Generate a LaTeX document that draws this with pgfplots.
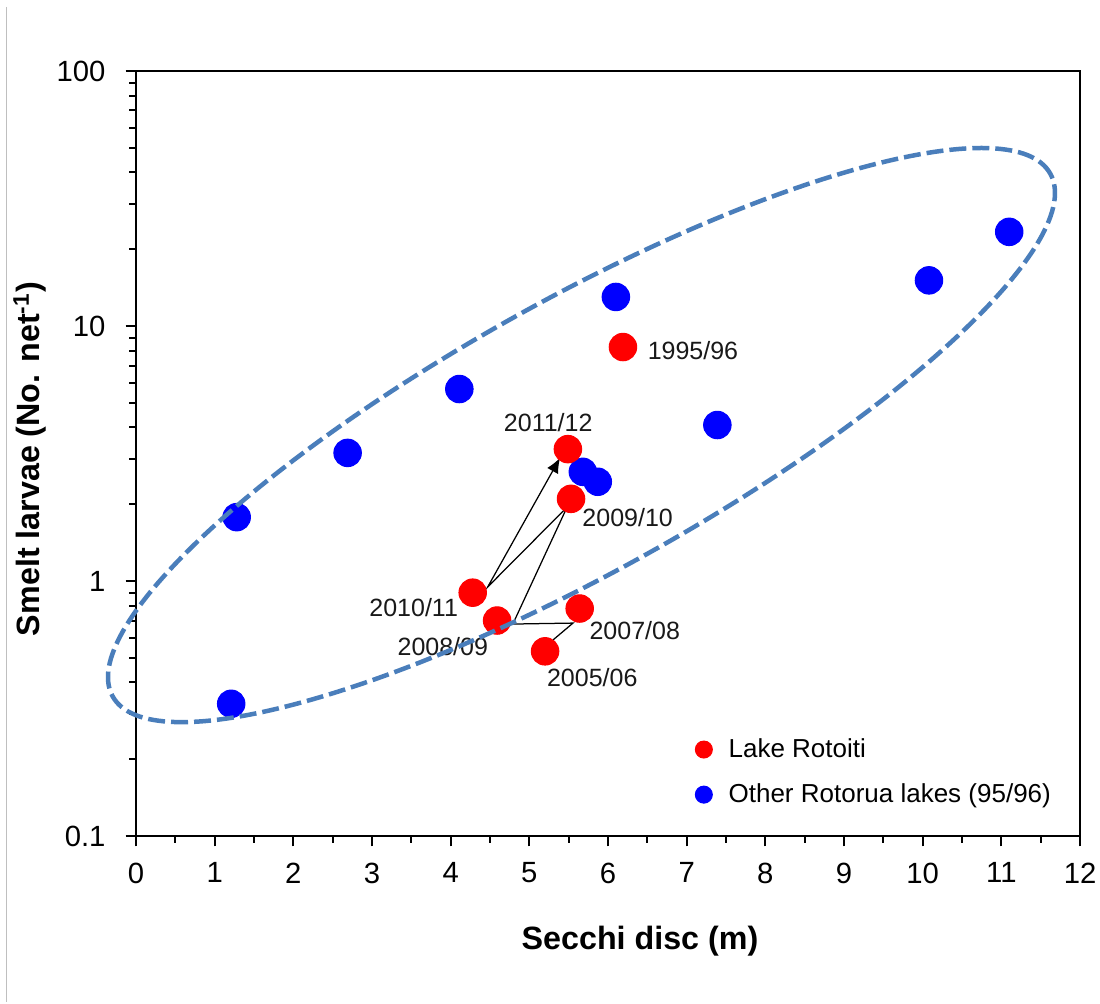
\documentclass[border=0pt]{standalone}
\usepackage{fontspec}
\setmainfont{Liberation Sans}
\usepackage{pgfplots}
\pgfplotsset{compat=1.18}
\usetikzlibrary{arrows.meta}
\definecolor{ellcol}{RGB}{74,126,187}
\begin{document}
\begin{tikzpicture}
\begin{axis}[
  name=ax,
  scale only axis, width=377.6pt, height=306pt,
  xmin=0, xmax=12, ymode=log, ymin=0.1, ymax=100,
  xtick={0,1,2,3,4,5,6,7,8,9,10,11,12},
  xticklabels={0,1,2,3,4,5,6,7,8,9,10,11,12},
  minor x tick num=1,
  ytick={0.1,1,10,100}, yticklabels={0.1,1,10,100},
  tick align=outside, xtick pos=bottom, ytick pos=left,
  major tick length=4.2pt, minor tick length=2.8pt,
  every tick/.style={black, line width=0.8pt},
  axis line style={line width=0.9pt},
  tick label style={font=\fontsize{11.7}{14}\selectfont},
  xticklabel style={yshift=-3pt},
  yticklabel style={xshift=-4.5pt},
  legend style={draw=none, fill=none, at={(rel axis cs:0.592,0.135)}, anchor=north west,
    font=\fontsize{10.4}{12.5}\selectfont, row sep=5pt, inner sep=0pt},
  legend cell align=left,
  legend image post style={mark size=3.4pt},
]
\addplot[only marks, mark=*, mark size=5.5pt, color=blue, forget plot] coordinates {
  (1.28,1.78) (1.21,0.33) (2.69,3.18) (4.11,5.66) (6.10,13.0) (7.39,4.09)
  (10.08,15.1) (11.10,23.4) (5.68,2.68) (5.87,2.45)
};
\addplot[only marks, mark=*, mark size=5.5pt, color=red] coordinates {
  (6.19,8.27) (5.49,3.29) (5.53,2.10) (4.28,0.90) (4.59,0.70) (5.64,0.78) (5.20,0.53)
};
\addlegendentry{\hspace{4.5pt}Lake Rotoiti}
\addplot[only marks, mark=*, mark size=5.5pt, color=blue] coordinates {(-5,1)};
\addlegendentry{\hspace{4.5pt}Other Rotorua lakes (95/96)}
\addplot[black, line width=0.5pt, -{Latex[length=6pt,width=5pt]}, forget plot] coordinates {
  (5.30,0.587) (5.555,0.684) (4.79,0.678) (5.48,1.95) (4.47,0.947) (5.39,3.04)
};
\begin{scope}[every node/.style={inner sep=0pt, anchor=center, text=black!90, font=\fontsize{10}{12}\selectfont}]
\node at (axis cs:7.08,7.98) {1995/96};
\node at (axis cs:5.24,4.20) {2011/12};
\node at (axis cs:6.25,1.78) {2009/10};
\node at (axis cs:3.53,0.784) {2010/11};
\node at (axis cs:3.90,0.551) {2008/09};
\node at (axis cs:6.34,0.642) {2007/08};
\node at (axis cs:5.80,0.417) {2005/06};
\end{scope}
\coordinate (ec) at (axis cs:5.663,3.737);
\end{axis}
\draw[ellcol, line width=1.8pt, dash pattern=on 6.8pt off 2.4pt, rotate around={29.14:(ec)}]
  (ec) ellipse [x radius=214.7pt, y radius=54.3pt];
\node[font=\bfseries\fontsize{12.9}{15}\selectfont, anchor=center] at ([xshift=12.8pt, yshift=-42pt]ax.south) {Secchi disc (m)};
\node[font=\bfseries\fontsize{12.9}{15}\selectfont, anchor=center, rotate=90] at ([xshift=-42.4pt, yshift=-2.2pt]ax.west) {Smelt larvae (No. net\textsuperscript{-1})};
\draw[black!25, line width=0.5pt] ([xshift=-51.8pt, yshift=25.6pt]ax.north west) -- ([xshift=-51.8pt, yshift=-66.4pt]ax.south west);
\pgfresetboundingbox
\path ([xshift=-54.4pt, yshift=-66.8pt]ax.south west) rectangle ([xshift=8pt, yshift=28.4pt]ax.north east);
\end{tikzpicture}
\end{document}
